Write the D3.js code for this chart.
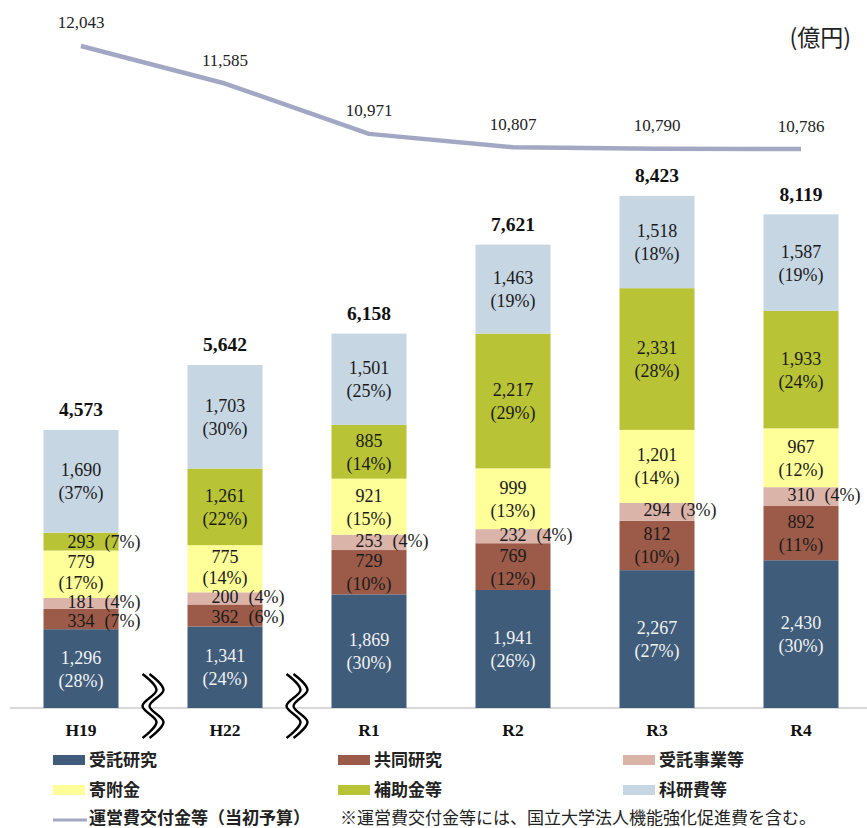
<!DOCTYPE html>
<html>
<head>
<meta charset="utf-8">
<script src="https://cdn.jsdelivr.net/npm/d3@7"></script>
<style>
body { margin: 0; background: #fff; }
</style>
</head>
<body>
<div id="chart"></div>
<script>
// ---- data ----
const years = ["H19", "H22", "R1", "R2", "R3", "R4"];
const seriesNames = ["受託研究", "共同研究", "受託事業等", "寄附金", "補助金等", "科研費等"];
const jutakuKenkyu = [1296, 1341, 1869, 1941, 2267, 2430];
const kyodoKenkyu = [334, 362, 729, 769, 812, 892];
const jutakuJigyo = [181, 200, 253, 232, 294, 310];
const kifukin = [779, 775, 921, 999, 1201, 967];
const hojokin = [293, 1261, 885, 2217, 2331, 1933];
const kakenhi = [1690, 1703, 1501, 1463, 1518, 1587];
const totals = [4573, 5642, 6158, 7621, 8423, 8119];
const pctJutakuKenkyu = [28, 24, 30, 26, 27, 30];
const pctKyodoKenkyu = [7, 6, 10, 12, 10, 11];
const pctJutakuJigyo = [4, 4, 4, 4, 3, 4];
const pctKifukin = [17, 14, 15, 13, 14, 12];
const pctHojokin = [7, 22, 14, 29, 28, 24];
const pctKakenhi = [37, 30, 25, 19, 18, 19];
const unei = [12043, 11585, 10971, 10807, 10790, 10786];

const seriesValues = [jutakuKenkyu, kyodoKenkyu, jutakuJigyo, kifukin, hojokin, kakenhi];
const seriesPct = [pctJutakuKenkyu, pctKyodoKenkyu, pctJutakuJigyo, pctKifukin, pctHojokin, pctKakenhi];
const colors = ["#3f5c7a", "#9c5b48", "#dab3a9", "#ffff99", "#b9c336", "#c6d6e3"];
const lineColor = "#a2a8c4";

const width = 867, height = 828;
const serif = "'Liberation Serif', 'Times New Roman', serif";
const sans = "'Noto Sans CJK JP', 'Noto Sans', sans-serif";

const svg = d3.select("#chart").append("svg")
    .attr("width", width)
    .attr("height", height);

// scales
const x = d3.scalePoint().domain(years).range([81, 801]);
const barW = 75;
const y = d3.scaleLinear().domain([0, 10000]).range([708, 100]);
const yLine = d3.scaleLinear().domain([10000, 13000]).range([213.5, -32.5]);

// build stacked table
const table = years.map((yr, i) => {
    const row = { year: yr };
    seriesNames.forEach((s, j) => { row[s] = seriesValues[j][i]; });
    return row;
});
const stacked = d3.stack().keys(seriesNames)(table);

// axis baseline
svg.append("line")
    .attr("x1", 10).attr("x2", width)
    .attr("y1", y(0)).attr("y2", y(0))
    .attr("stroke", "#d9d9d9").attr("stroke-width", 2);

// bars
const layers = svg.selectAll(".layer")
    .data(stacked)
    .enter().append("g")
    .attr("class", "layer")
    .attr("fill", (d, j) => colors[j]);

layers.selectAll("rect")
    .data(d => d)
    .enter().append("rect")
    .attr("x", d => x(d.data.year) - barW / 2)
    .attr("width", barW)
    .attr("y", d => y(d[1]))
    .attr("height", d => y(d[0]) - y(d[1]));

// segment labels
const fmt = d3.format(",");
const labelG = svg.append("g")
    .attr("font-family", serif)
    .attr("font-size", 18);

stacked.forEach((layer, j) => {
    layer.forEach((d, i) => {
        const cx = x(d.data.year);
        const cy = (y(d[0]) + y(d[1])) / 2;
        const h = y(d[0]) - y(d[1]);
        const col = j === 0 ? "#f2f2f2" : "#1a1a1a";
        const val = fmt(seriesValues[j][i]);
        const pct = seriesPct[j][i];
        if (h >= 30) {
            // short 寄附金 blocks squeeze a little between the thin labels
            const tight = h < 50 && j === 3;
            const up = tight ? -12 : -11;
            const dn = tight ? 9 : 12;
            labelG.append("text")
                .attr("x", cx).attr("y", cy + up)
                .attr("text-anchor", "middle")
                .attr("dominant-baseline", "central")
                .attr("fill", col)
                .text(val);
            labelG.append("text")
                .attr("x", cx).attr("y", cy + dn)
                .attr("text-anchor", "middle")
                .attr("dominant-baseline", "central")
                .attr("fill", col)
                .text("(" + pct + "%)");
        } else {
            // thin segment: one line, small nudge apart when stacked tightly
            const ny = j === 2 ? -1.5 : (j === 1 ? 1.5 : 0);
            const t = labelG.append("text")
                .attr("x", cx).attr("y", cy + ny)
                .attr("text-anchor", "middle")
                .attr("dominant-baseline", "central")
                .attr("fill", col)
                .text(val);
            const w = t.node().getComputedTextLength();
            labelG.append("text")
                .attr("x", cx + w / 2 + 10).attr("y", cy + ny)
                .attr("dominant-baseline", "central")
                .attr("fill", col)
                .text("(" + pct + "%)");
        }
    });
});

// totals
svg.append("g").selectAll("text")
    .data(years)
    .enter().append("text")
    .attr("x", d => x(d))
    .attr("y", (d, i) => y(totals[i]) - 20)
    .attr("text-anchor", "middle")
    .attr("dominant-baseline", "central")
    .attr("font-family", serif)
    .attr("font-size", 19.5)
    .attr("font-weight", "bold")
    .attr("fill", "#111")
    .text((d, i) => fmt(totals[i]));

// category labels
svg.append("g").selectAll("text")
    .data(years)
    .enter().append("text")
    .attr("x", d => x(d))
    .attr("y", 730)
    .attr("text-anchor", "middle")
    .attr("dominant-baseline", "central")
    .attr("font-family", serif)
    .attr("font-size", 17.5)
    .attr("font-weight", "bold")
    .attr("fill", "#111")
    .text(d => d);

// 運営費交付金等 line
const line = d3.line()
    .x((d, i) => x(years[i]))
    .y(d => yLine(d));

svg.append("path")
    .datum(unei)
    .attr("d", line)
    .attr("fill", "none")
    .attr("stroke", lineColor)
    .attr("stroke-width", 4.5)
    .attr("stroke-linejoin", "round");

svg.append("g").selectAll("text")
    .data(unei)
    .enter().append("text")
    .attr("x", (d, i) => x(years[i]))
    .attr("y", d => yLine(d) - 23)
    .attr("text-anchor", "middle")
    .attr("dominant-baseline", "central")
    .attr("font-family", serif)
    .attr("font-size", 17)
    .attr("fill", "#222")
    .text(d => fmt(d));

// unit
svg.append("text")
    .attr("x", 851).attr("y", 36)
    .attr("text-anchor", "end")
    .attr("dominant-baseline", "central")
    .attr("font-family", sans)
    .attr("font-size", 23)
    .attr("fill", "#222")
    .text("(億円)");

// axis break marks between H19/H22 and H22/R1
const waveDx = [-7, 7, -7, 7, -7];
const waveDy = [0, 16, 32, 48, 64];
const wave = d3.line().curve(d3.curveCatmullRom.alpha(0.5));
[[0, 1], [1, 2]].forEach(([a, b]) => {
    const cx = (x(years[a]) + x(years[b])) / 2;
    const top = 674;
    const pts = off => waveDx.map((dx, k) => [cx + off + dx, top + waveDy[k]]);
    svg.append("path").attr("d", wave(pts(0)))
        .attr("fill", "none").attr("stroke", "#fff").attr("stroke-width", 8);
    [-3.5, 3.5].forEach(off => {
        svg.append("path").attr("d", wave(pts(off)))
            .attr("fill", "none").attr("stroke", "#000").attr("stroke-width", 2.4);
    });
});

// legend
const legendX = [53, 338, 623];
const legendY = [758, 788];
const legend = svg.append("g")
    .attr("font-family", sans)
    .attr("font-size", 17)
    .attr("font-weight", "bold")
    .attr("fill", "#222");

seriesNames.forEach((s, j) => {
    const lx = legendX[j % 3];
    const ly = legendY[Math.floor(j / 3)];
    legend.append("rect")
        .attr("x", lx).attr("y", ly - 3)
        .attr("width", 32).attr("height", 10)
        .attr("fill", colors[j]);
    legend.append("text")
        .attr("x", lx + 36).attr("y", ly)
        .attr("dominant-baseline", "central")
        .text(s);
});

legend.append("line")
    .attr("x1", 53).attr("x2", 87)
    .attr("y1", 820).attr("y2", 820)
    .attr("stroke", lineColor).attr("stroke-width", 3);
legend.append("text")
    .attr("x", 89).attr("y", 816)
    .attr("dominant-baseline", "central")
    .text("運営費交付金等（当初予算）");

svg.append("text")
    .attr("x", 340).attr("y", 816)
    .attr("dominant-baseline", "central")
    .attr("font-family", sans)
    .attr("font-size", 17)
    .attr("fill", "#222")
    .text("※運営費交付金等には、国立大学法人機能強化促進費を含む。");
</script>
</body>
</html>
